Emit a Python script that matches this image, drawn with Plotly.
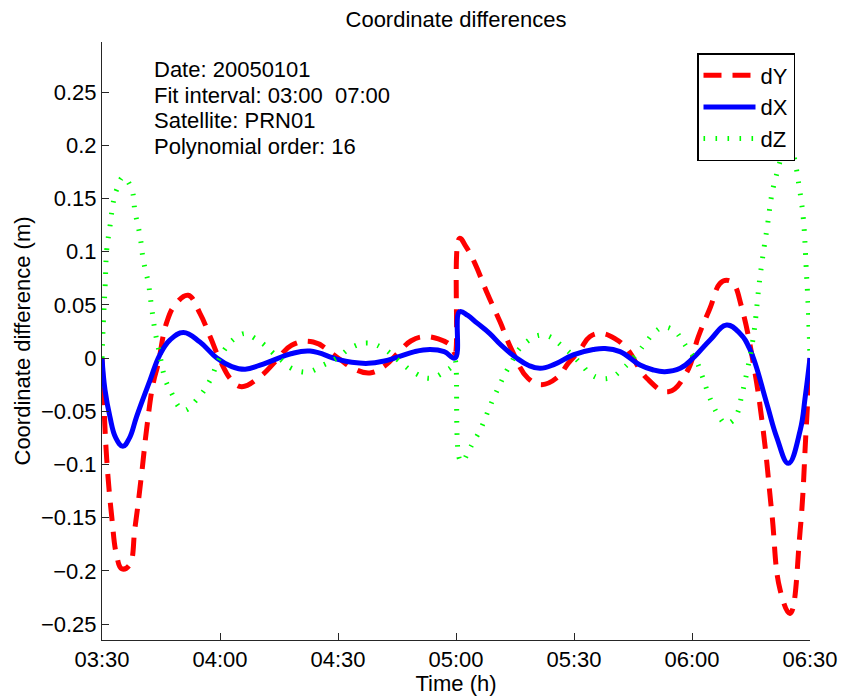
import plotly.graph_objects as go

# Time in minutes after 03:30
tick_minutes = [0, 30, 60, 90, 120, 150, 180]
tick_labels = ["03:30", "04:00", "04:30", "05:00", "05:30", "06:00", "06:30"]
y_tick_vals = [-0.25, -0.2, -0.15, -0.1, -0.05, 0, 0.05, 0.1, 0.15, 0.2, 0.25]
y_tick_text = ["\u22120.25", "\u22120.2", "\u22120.15", "\u22120.1", "\u22120.05", "0",
               "0.05", "0.1", "0.15", "0.2", "0.25"]

t_dY = [0, 0.4, 1.2, 2.5, 3.7, 5.0, 6.9, 8.4, 10.1, 11.4, 13.0, 14.3, 16.4, 18.6, 21.9, 24.9,
        27.5, 30.0, 33.0, 35.5, 40.2, 44.4, 48.2, 53.7, 60.0, 64.0, 68.1, 72.0, 75.3, 78.5,
        81.6, 85.5, 88.9, 89.75, 90.9, 92.5, 94.8, 97.8, 101.2, 104.2, 108.3, 111.8, 116.0,
        118.5, 121.5, 124.0, 127.0, 130.5, 133.4, 138.5, 144.0, 148.7, 151.6, 154.6, 157.1,
        158.8, 160.5, 162.6, 165.6, 168.1, 170.3, 172.4, 174.9, 177.5, 179.0, 180.0]
dY = [0, -0.035, -0.095, -0.150, -0.185, -0.198, -0.195, -0.159, -0.108, -0.065, -0.024,
      -0.005, 0.033, 0.050, 0.059, 0.042, 0.020, -0.002, -0.021, -0.027, -0.0175, -0.002,
      0.012, 0.015, 0.0, -0.010, -0.014, -0.007, 0.005, 0.016, 0.020, 0.018, 0.011, 0.004,
      0.1125, 0.105, 0.089, 0.062, 0.034, 0.0075, -0.019, -0.025, -0.0175, -0.005, 0.0075,
      0.020, 0.023, 0.018, 0.009, -0.019, -0.0317, -0.013, 0.020, 0.047, 0.070, 0.073,
      0.070, 0.048, -0.005, -0.068, -0.146, -0.218, -0.240, -0.162, -0.068, 0.0]

t_dX = [0, 0.76, 2.0, 3.5, 5.3, 7.0, 8.8, 12.2, 14.7, 17.3, 20.7, 24.9, 29.2, 33.0, 36.4,
        40.0, 43.6, 48.0, 52.9, 59.7, 63.5, 67.7, 71.5, 75.3, 79.5, 83.4, 87.0, 89.75, 90.9,
        93.0, 95.3, 98.6, 101.5, 105.4, 108.5, 111.4, 115.0, 119.8, 124.9, 127.9, 131.7,
        136.8, 140.0, 143.1, 147.0, 150.3, 154.6, 158.8, 162.2, 164.8, 169.0, 171.5, 174.5,
        177.5, 178.8, 180.0]
dX = [0, -0.030, -0.055, -0.075, -0.083, -0.075, -0.055, -0.021, 0.003, 0.017, 0.024, 0.015,
      0.0, -0.008, -0.0106, -0.007, -0.002, 0.004, 0.0065, -0.001, -0.004, -0.005, -0.003,
      0.001, 0.006, 0.008, 0.006, 0.0, 0.0435, 0.040, 0.033, 0.023, 0.012, 0.0, -0.007,
      -0.0097, -0.006, 0.003, 0.008, 0.009, 0.006, -0.0066, -0.011, -0.0128, -0.0097, 0.0,
      0.017, 0.031, 0.023, 0.0075, -0.0426, -0.074, -0.099, -0.068, -0.036, 0.0]

t_dZ = [0, 0.35, 0.8, 1.2, 2.0, 2.9, 3.7, 5.4, 7.5, 8.4, 9.7, 10.5, 11.8, 12.6, 13.5, 14.7,
        16.0, 17.3, 20.7, 24.1, 27.5, 29.6, 31.7, 33.8, 36.4, 38.9, 41.4, 43.6, 46.1, 48.2,
        52.4, 56.0, 59.7, 63.5, 67.6, 71.5, 75.3, 79.5, 83.4, 87.0, 89.2, 89.75,
        90.9, 91.6, 93.1, 94.4, 96.1, 99.5, 103.7, 107.0, 112.1, 117.7, 122.0, 124.0, 126.6,
        129.6, 132.1, 134.2, 136.4, 138.1, 140.2, 142.7, 145.7, 147.4, 149.1, 151.2, 152.5,
        153.8, 155.4, 156.9, 158.4, 160.0, 161.4, 162.6, 163.9, 165.6, 167.3, 169.0, 171.1,
        174.5, 177.5, 179.2, 180.0]
dZ = [0, 0.034, 0.068, 0.1015, 0.123, 0.147, 0.158, 0.170, 0.159, 0.1375, 0.114, 0.092,
      0.070, 0.048, 0.025, 0.003, -0.019, -0.030, -0.049, -0.039, -0.0207, -0.002, 0.0106,
      0.0185, 0.023, 0.0185, 0.012, 0.0044, -0.0035, -0.0097, -0.013, -0.007, 0.0, 0.010,
      0.014, 0.009, -0.002, -0.014, -0.019, -0.013, -0.007, -0.002,
      -0.095, -0.0975, -0.088, -0.079, -0.068, -0.038, -0.0066, 0.012, 0.0216, 0.009,
      -0.0066, -0.0144, -0.019, -0.018, -0.011, -0.0035, 0.006, 0.0138, 0.023, 0.029, 0.025,
      0.017, 0.0075, -0.0035, -0.016, -0.030, -0.045, -0.055, -0.0614, -0.060, -0.053,
      -0.036, -0.0144, 0.020, 0.0765, 0.120, 0.167, 0.200, 0.155, 0.073, 0.0]

info_lines = ["Date: 20050101", "Fit interval: 03:00  07:00", "Satellite: PRN01",
              "Polynomial order: 16"]

FONT = "Liberation Sans, Arial, Helvetica, sans-serif"
FS = 22
OFF = 8                      # page body margin of the generated html
W, H = 855 - OFF, 696 - OFF
# plot area in page pixels: x 102..810, y 42..640
L, T = 102 - OFF, 42 - OFF
R, B = W - (810 - OFF), H - (640 - OFF)


def px_x(p):
    """page pixel x -> paper x"""
    return (p - OFF - L) / (W - L - R)


def px_y(p):
    """page pixel y -> paper y"""
    return (H - B - (p - OFF)) / (H - T - B)


fig = go.Figure()
fig.add_trace(go.Scatter(x=t_dY, y=dY, name="dY", mode="lines",
                         line=dict(color="#ff0000", width=5, dash="18px,11px",
                                   shape="spline", smoothing=1.2)))
fig.add_trace(go.Scatter(x=t_dX, y=dX, name="dX", mode="lines",
                         line=dict(color="#0000ff", width=5, shape="spline", smoothing=1.2)))
fig.add_trace(go.Scatter(x=t_dZ, y=dZ, name="dZ", mode="lines",
                         line=dict(color="#00ff00", width=5, dash="1.6px,10.4px",
                                   shape="spline", smoothing=1.2)))

annotations = []
for i, txt in enumerate(info_lines):
    annotations.append(dict(text=txt, xref="paper", yref="paper", x=px_x(152),
                            y=px_y(70 + i * 25.4), xanchor="left", yanchor="middle",
                            showarrow=False, font=dict(family=FONT, size=FS, color="black")))

fig.update_layout(
    width=W, height=H,
    margin=dict(l=L, r=R, t=T, b=B, autoexpand=False),
    paper_bgcolor="white", plot_bgcolor="white",
    font=dict(family=FONT, size=FS, color="black"),
    title=dict(text="Coordinate differences", x=0.5, xref="paper", y=1 - 4 / H,
               yanchor="top", pad=dict(t=0, b=0),
               font=dict(family=FONT, size=FS, color="black")),
    showlegend=True,
    legend=dict(x=px_x(795), y=px_y(53), xanchor="right", yanchor="top",
                bgcolor="white", bordercolor="black", borderwidth=1.5,
                font=dict(family=FONT, size=FS, color="black"), tracegroupgap=0,
                itemwidth=52),
    annotations=annotations,
)
fig.update_xaxes(range=[0, 180], tickvals=tick_minutes, ticktext=tick_labels,
                 showgrid=False, zeroline=False, showline=True, linecolor="#262626",
                 linewidth=1, ticks="inside", ticklen=7, tickcolor="#262626",
                 automargin=False,
                 title=dict(text="Time (h)", standoff=4, font=dict(size=FS)))
fig.update_yaxes(range=[-0.265, 0.297], tickvals=y_tick_vals, ticktext=y_tick_text,
                 showgrid=False, zeroline=False, showline=True, linecolor="#262626",
                 linewidth=1, ticks="inside", ticklen=7, tickcolor="#262626",
                 automargin=False,
                 title=dict(text="Coordinate difference (m)", standoff=4, font=dict(size=FS)))

fig.write_html("out.html")
